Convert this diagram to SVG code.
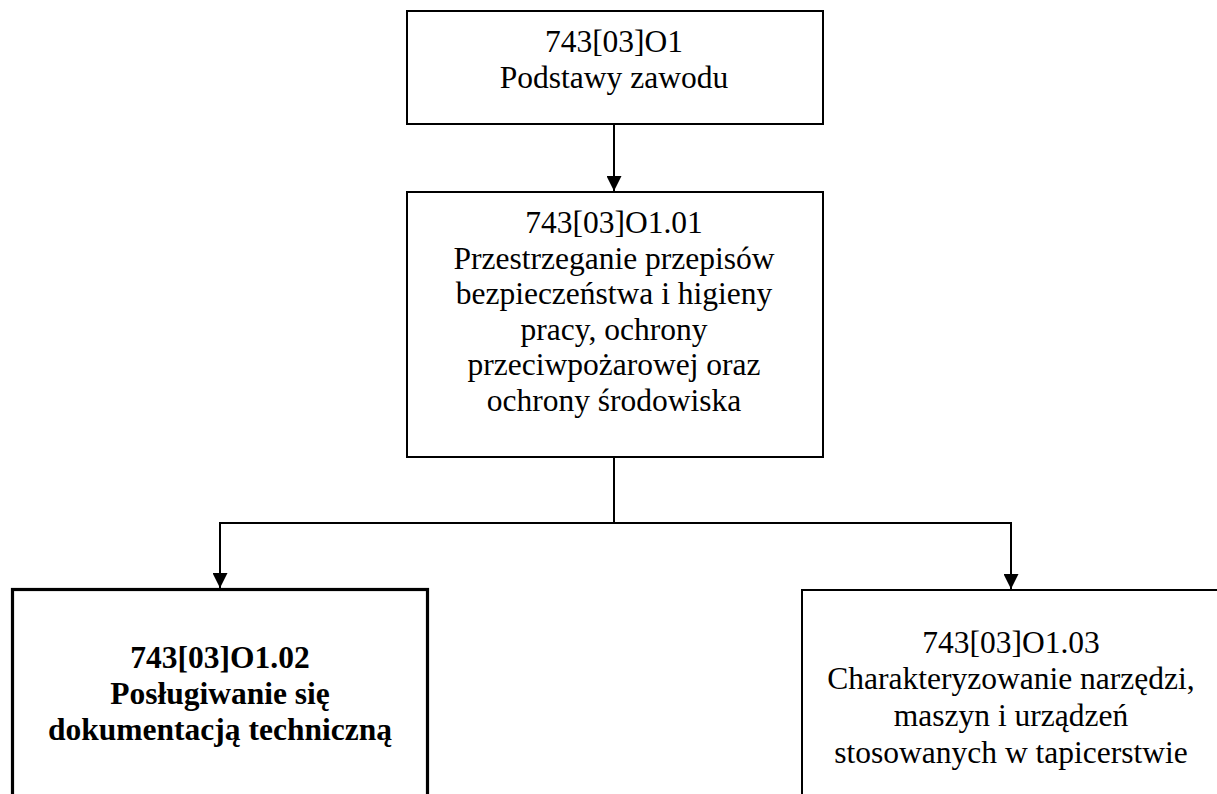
<svg xmlns="http://www.w3.org/2000/svg" width="1217" height="794" viewBox="0 0 1217 794">
<style>
.box{fill:#fff;stroke:#000;stroke-width:2}
.thick{stroke-width:3.2}
.t{text-anchor:middle;fill:#000}
.b{font-weight:bold}
.c{fill:none;stroke:#000;stroke-width:2}
</style>
<defs>
<marker id="ah" markerWidth="15" markerHeight="15" refX="15" refY="7.5" orient="auto" markerUnits="userSpaceOnUse" viewBox="0 0 15 15">
<path d="M0,0 L15,7.5 L0,15 Z" fill="#000"/>
</marker>
</defs>
<rect width="1217" height="794" fill="#fff"/>
<g id="connectors">
<line class="c" x1="614" y1="124" x2="614" y2="191" marker-end="url(#ah)"/>
<line class="c" x1="614" y1="457" x2="614" y2="523"/>
<polyline class="c" points="220,523 1011,523"/>
<line class="c" x1="220" y1="522" x2="220" y2="588" marker-end="url(#ah)"/>
<line class="c" x1="1011" y1="522" x2="1011" y2="589" marker-end="url(#ah)"/>
</g>
<g id="n1" font-family="Liberation Serif, Times New Roman, serif" font-size="31.5">
<rect class="box" x="407" y="11" width="416" height="113"/>
<text class="t" x="614" y="52">743[03]O1</text>
<text class="t" x="614" y="87.5">Podstawy zawodu</text>
</g>
<g id="n2" font-family="Liberation Serif, Times New Roman, serif" font-size="31.5">
<rect class="box" x="407" y="192" width="416" height="265"/>
<text class="t" x="614" y="233">743[03]O1.01</text>
<text class="t" x="614" y="268.5">Przestrzeganie przepisów</text>
<text class="t" x="614" y="304">bezpieczeństwa i higieny</text>
<text class="t" x="614" y="339.5">pracy, ochrony</text>
<text class="t" x="614" y="375">przeciwpożarowej oraz</text>
<text class="t" x="614" y="410.5">ochrony środowiska</text>
</g>
<g id="n3" font-family="Liberation Serif, Times New Roman, serif" font-size="31.5">
<rect class="box thick" x="12.5" y="589.5" width="415" height="260"/>
<text class="t b" x="220" y="668">743[03]O1.02</text>
<text class="t b" x="220" y="704">Posługiwanie się</text>
<text class="t b" x="220" y="740">dokumentacją techniczną</text>
</g>
<g id="n4" font-family="Liberation Serif, Times New Roman, serif" font-size="31.5">
<rect class="box" x="802" y="590" width="418" height="260"/>
<text class="t" x="1011" y="653">743[03]O1.03</text>
<text class="t" x="1011" y="689">Charakteryzowanie narzędzi,</text>
<text class="t" x="1011" y="726">maszyn i urządzeń</text>
<text class="t" x="1011" y="763">stosowanych w tapicerstwie</text>
</g>
</svg>
